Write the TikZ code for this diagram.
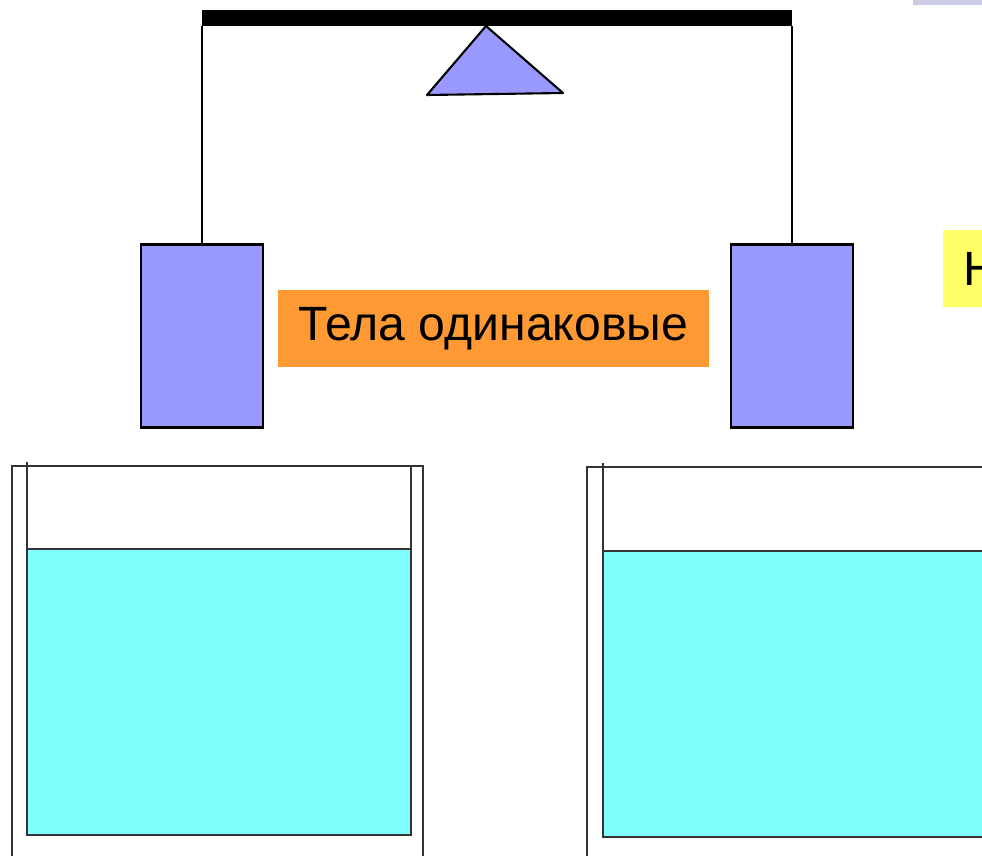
\documentclass[tikz,border=0pt]{standalone}
\usepackage{fontspec}
\setmainfont{Liberation Sans}
\definecolor{bodyblue}{HTML}{9999FF}
\definecolor{water}{HTML}{80FFFF}
\definecolor{tagorange}{HTML}{FF9933}
\definecolor{tagyellow}{HTML}{FFFF66}
\definecolor{barlilac}{HTML}{CCCCE8}
\definecolor{glass}{HTML}{333333}
\tikzset{
  weight/.style={draw, fill=bodyblue, line width=1.2pt, minimum width=2.44cm, minimum height=3.66cm},
  tag/.style={inner sep=0pt, minimum height=1.54cm, font=\fontsize{27.4}{31}\selectfont},
  wall/.style={draw=glass, line width=0.7pt}
}
\begin{document}
\begin{tikzpicture}[x=0.02cm,y=-0.02cm]
        \useasboundingbox (0,0) rectangle (982,855);
        \clip (0,0) rectangle (982,855);

        % beakers
        \filldraw[wall, fill=water] (27,549) rectangle (411,835);
        \draw[wall] (12,880) -- (12,466) -- (423,466) -- (423,880);
        \draw[wall] (27,462) -- (27,835);
        \draw[wall] (411,466) -- (411,835);

        \filldraw[wall, fill=water] (603,551) rectangle (990,837);
        \draw[wall] (587,880) -- (587,467) -- (1010,467);
        \draw[wall] (603,463) -- (603,837);

        % beam and pivot
        \fill (202,10) rectangle (792,26);
        \filldraw[fill=bodyblue, line width=1.2pt, line join=round] (486,26) -- (427,95) -- (563,93) -- cycle;

        \coordinate (hookL) at (202,26);
        \coordinate (hookR) at (792,26);

        \begin{scope}[every node/.style={weight}]
            \node (bodyL) at (202,336) {};
            \node (bodyR) at (792,336) {};
        \end{scope}

        \path[line width=1.2pt] (hookL) edge (bodyL);
        \path[line width=1.2pt] (hookR) edge (bodyR);

        \node[tag, fill=tagorange, minimum width=8.62cm] (same) at (493.5,328.5) {Тела одинаковые};
        \node[tag, fill=tagyellow, anchor=west, inner xsep=0.4cm] (hint) at (943,268.5) {Н};

        \fill[barlilac] (913,0) rectangle (982,5);
    \end{tikzpicture}
\end{document}
